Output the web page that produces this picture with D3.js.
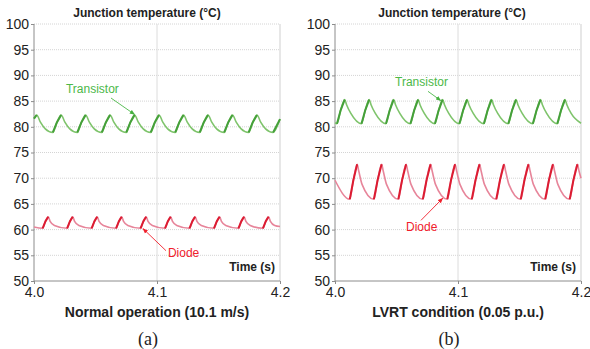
<!DOCTYPE html>
<html>
<head>
<meta charset="utf-8">
<script src="https://cdn.jsdelivr.net/npm/d3@7"></script>
<style>
  body { margin: 0; background: #fff; }
  svg { display: block; font-family: "Liberation Sans", Arial, sans-serif; }
  .axis path, .axis line { stroke: #8c8c8c; }
  .axis text { font-size: 14px; fill: #222; }
</style>
</head>
<body>
<div id="chart-area"></div>
<script>
// time axis (s) and temperature axis (deg C)
var timeTicks = [4.0, 4.1, 4.2];
var tempTicks = [50, 55, 60, 65, 70, 75, 80, 85, 90, 95, 100];

// (a) normal operation - transistor
var transistorA = [
  [4.0000,81.6],
  [4.0022,82.3],[4.0052,80.9],[4.0092,79.6],[4.0153,78.9],[4.0187,80.9],
  [4.0221,82.3],[4.0251,80.9],[4.0291,79.6],[4.0352,78.9],[4.0386,80.9],
  [4.0420,82.3],[4.0450,80.9],[4.0490,79.6],[4.0551,78.9],[4.0585,80.9],
  [4.0619,82.3],[4.0649,80.9],[4.0689,79.6],[4.0750,78.9],[4.0784,80.9],
  [4.0818,82.3],[4.0848,80.9],[4.0888,79.6],[4.0949,78.9],[4.0983,80.9],
  [4.1017,82.3],[4.1047,80.9],[4.1087,79.6],[4.1148,78.9],[4.1182,80.9],
  [4.1216,82.3],[4.1246,80.9],[4.1286,79.6],[4.1347,78.9],[4.1381,80.9],
  [4.1415,82.3],[4.1445,80.9],[4.1485,79.6],[4.1546,78.9],[4.1580,80.9],
  [4.1614,82.3],[4.1644,80.9],[4.1684,79.6],[4.1745,78.9],[4.1779,80.9],
  [4.1813,82.3],[4.1843,80.9],[4.1883,79.6],[4.1944,78.9],[4.2000,81.5]
];

// (a) normal operation - diode
var diodeA = [
  [4.0000,60.5],[4.0070,60.25],[4.0093,61.6],
  [4.0116,62.5],[4.0131,61.6],[4.0166,60.8],[4.0269,60.25],[4.0292,61.6],
  [4.0315,62.5],[4.0330,61.6],[4.0365,60.8],[4.0468,60.25],[4.0491,61.6],
  [4.0514,62.5],[4.0529,61.6],[4.0564,60.8],[4.0667,60.25],[4.0690,61.6],
  [4.0713,62.5],[4.0728,61.6],[4.0763,60.8],[4.0866,60.25],[4.0889,61.6],
  [4.0912,62.5],[4.0927,61.6],[4.0962,60.8],[4.1065,60.25],[4.1088,61.6],
  [4.1111,62.5],[4.1126,61.6],[4.1161,60.8],[4.1264,60.25],[4.1287,61.6],
  [4.1310,62.5],[4.1325,61.6],[4.1360,60.8],[4.1463,60.25],[4.1486,61.6],
  [4.1509,62.5],[4.1524,61.6],[4.1559,60.8],[4.1662,60.25],[4.1685,61.6],
  [4.1708,62.5],[4.1723,61.6],[4.1758,60.8],[4.1861,60.25],[4.1884,61.6],
  [4.1907,62.5],[4.1922,61.6],[4.1957,60.8],[4.2000,60.6]
];

// (b) LVRT - transistor
var transistorB = [
  [4.0000,80.8],[4.0016,80.6],[4.0047,83.3],
  [4.0079,85.3],[4.0094,84.3],[4.0129,82.6],[4.0215,80.6],[4.0247,83.3],
  [4.0278,85.3],[4.0293,84.3],[4.0328,82.6],[4.0414,80.6],[4.0446,83.3],
  [4.0477,85.3],[4.0492,84.3],[4.0527,82.6],[4.0613,80.6],[4.0645,83.3],
  [4.0676,85.3],[4.0691,84.3],[4.0726,82.6],[4.0812,80.6],[4.0844,83.3],
  [4.0875,85.3],[4.0890,84.3],[4.0925,82.6],[4.1011,80.6],[4.1043,83.3],
  [4.1074,85.3],[4.1089,84.3],[4.1124,82.6],[4.1210,80.6],[4.1242,83.3],
  [4.1273,85.3],[4.1288,84.3],[4.1323,82.6],[4.1409,80.6],[4.1441,83.3],
  [4.1472,85.3],[4.1487,84.3],[4.1522,82.6],[4.1608,80.6],[4.1640,83.3],
  [4.1671,85.3],[4.1686,84.3],[4.1721,82.6],[4.1807,80.6],[4.1839,83.3],
  [4.1870,85.3],[4.1885,84.3],[4.1920,82.6],[4.2000,80.7]
];

// (b) LVRT - diode
var diodeB = [
  [4.0000,69.6],[4.0120,65.9],[4.0150,69.7],
  [4.0180,72.7],[4.0193,71.4],[4.0220,68.8],[4.0316,65.9],[4.0347,69.7],
  [4.0379,72.7],[4.0392,71.4],[4.0419,68.8],[4.0515,65.9],[4.0546,69.7],
  [4.0578,72.7],[4.0591,71.4],[4.0618,68.8],[4.0714,65.9],[4.0745,69.7],
  [4.0777,72.7],[4.0790,71.4],[4.0817,68.8],[4.0913,65.9],[4.0944,69.7],
  [4.0976,72.7],[4.0989,71.4],[4.1016,68.8],[4.1112,65.9],[4.1143,69.7],
  [4.1175,72.7],[4.1188,71.4],[4.1215,68.8],[4.1311,65.9],[4.1342,69.7],
  [4.1374,72.7],[4.1387,71.4],[4.1414,68.8],[4.1510,65.9],[4.1541,69.7],
  [4.1573,72.7],[4.1586,71.4],[4.1613,68.8],[4.1709,65.9],[4.1740,69.7],
  [4.1772,72.7],[4.1785,71.4],[4.1812,68.8],[4.1908,65.9],[4.1939,69.7],
  [4.1971,72.7],[4.1984,71.4],[4.2000,70.0]
];

var captions = ["Normal operation (10.1 m/s)", "LVRT condition (0.05 p.u.)"];
var letters = ["(a)", "(b)"];

// annotation: [label, text t, text v, arrow from t, v, arrow to t, v]
var notesA = [
  ["Transistor", 4.026, 86.6, 4.0626, 85.6, 4.0818, 82.4],
  ["Diode", 4.1089, 54.7, 4.1073, 55.9, 4.0886, 60.2]
];
var notesB = [
  ["Transistor", 4.0488, 87.9, 4.0756, 86.9, 4.0860, 85.1],
  ["Diode", 4.0577, 59.7, 4.0699, 61.8, 4.0876, 66.1]
];

var W = 590, H = 349;
var svg = d3.select("#chart-area").append("svg")
  .attr("width", W)
  .attr("height", H);

var defs = svg.append("defs");
[["arrGreen", "#45b03e"], ["arrRed", "#f0202c"]].forEach(function(a) {
  defs.append("marker")
    .attr("id", a[0])
    .attr("viewBox", "0 0 10 10")
    .attr("refX", 9).attr("refY", 5)
    .attr("markerWidth", 6).attr("markerHeight", 6)
    .attr("orient", "auto")
    .append("path")
      .attr("d", "M0,1 L10,5 L0,9 z")
      .attr("fill", a[1]);
});

var green = { light: "#7fc46c", dark: "#45a03a", text: "#4cb848" };
var red = { light: "#e7859a", dark: "#dc1c32", text: "#f0202c" };

function drawPanel(left, right, tr, di, notes, idx, titleShift) {
  var x = d3.scaleLinear().domain([4.0, 4.2]).range([left, right]);
  var y = d3.scaleLinear().domain([50, 100]).range([281, 24]);
  var g = svg.append("g");

  // grid
  g.selectAll(".hgrid")
    .data(tempTicks.slice(1))
    .enter().append("line")
      .attr("x1", x(4.0)).attr("x2", x(4.2))
      .attr("y1", function(d) { return y(d); })
      .attr("y2", function(d) { return y(d); })
      .attr("stroke", "#d4d4d4")
      .attr("stroke-width", 1)
      .attr("stroke-dasharray", "1,1");
  g.append("line")
    .attr("x1", x(4.1)).attr("x2", x(4.1))
    .attr("y1", y(50)).attr("y2", y(100))
    .attr("stroke", "#dcdcdc");
  g.append("line")
    .attr("x1", x(4.2)).attr("x2", x(4.2))
    .attr("y1", y(50)).attr("y2", y(100))
    .attr("stroke", "#cfcfcf");

  // axes
  g.append("g")
    .attr("class", "axis")
    .attr("transform", "translate(" + left + ",0)")
    .call(d3.axisLeft(y).tickValues(tempTicks).tickSize(3).tickPadding(2)
      .tickFormat(function(d) { return d; }))
    .call(function(s) { s.select(".domain").attr("d", "M0," + y(100) + "V" + y(50)); });

  g.append("g")
    .attr("class", "axis")
    .attr("transform", "translate(0," + y(50) + ")")
    .call(d3.axisBottom(x).tickValues(timeTicks).tickSize(3).tickPadding(3)
      .tickFormat(d3.format(".1f")))
    .call(function(s) { s.select(".domain").attr("d", "M" + x(4.0) + ",0H" + x(4.2)); });

  var line = d3.line()
    .x(function(d) { return x(d[0]); })
    .y(function(d) { return y(d[1]); })
    .curve(d3.curveMonotoneX);

  // rising edges + peaks drawn darker and thicker (switching ripple band)
  function riseSegments(data) {
    var segs = [];
    for (var i = 0; i < data.length - 1; i++) {
      if (data[i + 1][1] > data[i][1]) {
        var seg = [data[i], data[i + 1]];
        if (data[i + 2] && data[i + 2][1] > data[i + 1][1]) { seg.push(data[i + 2]); i++; }
        segs.push(seg);
      }
    }
    return segs;
  }

  [[tr, green], [di, red]].forEach(function(s) {
    g.append("path")
      .datum(s[0])
      .attr("fill", "none")
      .attr("stroke", s[1].light)
      .attr("stroke-width", 1.6)
      .attr("d", line);
    g.selectAll(null)
      .data(riseSegments(s[0]))
      .enter().append("path")
        .attr("fill", "none")
        .attr("stroke", s[1].dark)
        .attr("stroke-width", 2)
        .attr("stroke-linejoin", "round")
        .attr("d", d3.line()
          .x(function(d) { return x(d[0]); })
          .y(function(d) { return y(d[1]); }));
  });

  // titles
  g.append("text")
    .attr("x", (left + right) / 2 + titleShift)
    .attr("y", 17)
    .attr("text-anchor", "middle")
    .attr("font-size", "12px")
    .attr("font-weight", "bold")
    .attr("fill", "#222")
    .text("Junction temperature (°C)");

  g.append("text")
    .attr("x", right - 5)
    .attr("y", 271)
    .attr("text-anchor", "end")
    .attr("font-size", "12px")
    .attr("font-weight", "bold")
    .attr("fill", "#222")
    .text("Time (s)");

  g.append("text")
    .attr("x", (left + right) / 2)
    .attr("y", 317)
    .attr("text-anchor", "middle")
    .attr("font-size", "14px")
    .attr("font-weight", "bold")
    .attr("fill", "#222")
    .text(captions[idx]);

  g.append("text")
    .attr("x", (left + right) / 2 - 9)
    .attr("y", 345)
    .attr("text-anchor", "middle")
    .attr("font-family", "'Liberation Serif', 'Times New Roman', serif")
    .attr("font-size", "18px")
    .attr("fill", "#222")
    .text(letters[idx]);

  // annotations
  notes.forEach(function(n) {
    var c = n[0] === "Transistor" ? green : red;
    g.append("text")
      .attr("x", x(n[1])).attr("y", y(n[2]))
      .attr("font-size", "12px")
      .attr("fill", c.text)
      .text(n[0]);
    g.append("line")
      .attr("x1", x(n[3])).attr("y1", y(n[4]))
      .attr("x2", x(n[5])).attr("y2", y(n[6]))
      .attr("stroke", c.text)
      .attr("stroke-width", 0.9)
      .attr("marker-end", "url(#" + (c === green ? "arrGreen" : "arrRed") + ")");
  });
}

drawPanel(34, 280, transistorA, diodeA, notesA, 0, -10);
drawPanel(335, 581, transistorB, diodeB, notesB, 1, -6);
</script>
</body>
</html>
